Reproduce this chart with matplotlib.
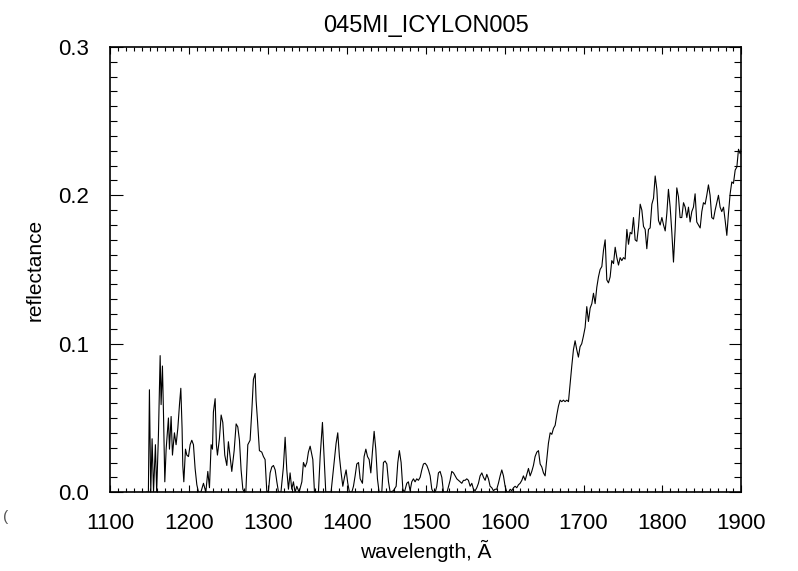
import matplotlib
matplotlib.use("Agg")
import matplotlib.pyplot as plt
from matplotlib.ticker import MultipleLocator

title = "045MI_ICYLON005"

wavelength = [
    1146, 1148.5, 1149.8, 1151.5, 1153.2, 1155, 1157.4, 1159, 1161.2, 1163.4,
    1164.6, 1166.3, 1167.6, 1169.3, 1171, 1173.9, 1175.2, 1177.3, 1179, 1181.5,
    1183.6, 1185.8, 1187.9, 1189.6, 1191.2, 1192.1, 1193.4, 1195.5, 1197.2, 1199.3,
    1201.4, 1203.5, 1205.6, 1207.7, 1209.9, 1212, 1215, 1218.3, 1221.3, 1223.8,
    1225.9, 1228, 1229.7, 1230.9, 1233.1, 1234.7, 1236, 1238.5, 1240.7, 1242.8,
    1245.3, 1247.9, 1249.9, 1254.2, 1257.2, 1259.7, 1261.8, 1263.9, 1266, 1268.2,
    1270, 1272, 1274.5, 1277.4, 1279.6, 1281.6, 1283.8, 1285, 1286.7, 1289.2,
    1292.2, 1294.3, 1296.4, 1298.6, 1300.7, 1302.8, 1304.9, 1307, 1309.2, 1311.3,
    1313.4, 1316.5, 1319.6, 1321.8, 1323.9, 1326, 1328.1, 1330.2, 1332.3, 1334.4,
    1336.6, 1339.5, 1343, 1345, 1347.2, 1349.3, 1351.3, 1353.5, 1356.9, 1359,
    1362, 1364, 1366.2, 1369.1, 1371, 1373.3, 1376, 1380, 1383.9, 1386.4,
    1388.5, 1390.6, 1392.8, 1394.9, 1397, 1399.1, 1401.2, 1403.3, 1406.3, 1408.4,
    1410.5, 1412.6, 1414.8, 1416.9, 1419.8, 1421.9, 1424.1, 1426.2, 1428.3, 1430.4,
    1432.4, 1434.6, 1436.7, 1438.8, 1440.9, 1444.3, 1446.4, 1448.5, 1450.7, 1452.8,
    1454.9, 1459, 1462.5, 1464.6, 1466.6, 1468.8, 1471, 1473, 1476, 1478,
    1480.2, 1482.3, 1484.4, 1486.5, 1488.6, 1490.7, 1492.9, 1495, 1497.1, 1499.2,
    1501.4, 1503.5, 1505.6, 1507.7, 1509.8, 1512, 1514, 1516.1, 1518.2, 1520.4,
    1522.5, 1527, 1530.9, 1533, 1535.2, 1537.3, 1539.4, 1541.5, 1543.6, 1545.7,
    1547.8, 1549.9, 1552, 1554.1, 1556.3, 1558.4, 1560.5, 1562.6, 1564.7, 1566.8,
    1568.9, 1571.1, 1573.2, 1575.3, 1577.4, 1579.5, 1581.6, 1583.7, 1585.8, 1587.9,
    1590, 1592.1, 1594.3, 1596.4, 1598.5, 1600.6, 1602.8, 1605, 1607, 1609.1,
    1611.2, 1613.3, 1615.4, 1617.5, 1619.6, 1621.8, 1623.8, 1626, 1628.1, 1630.2,
    1632.3, 1634.4, 1636.5, 1638.6, 1640.8, 1642.9, 1645, 1647.1, 1649.2, 1651.3,
    1653.4, 1655.5, 1657.7, 1659.8, 1661.9, 1664, 1666.1, 1668.2, 1670.3, 1672.4,
    1674.5, 1676.6, 1678.8, 1680.9, 1683, 1685.1, 1687.2, 1689.3, 1691.4, 1693.5,
    1695.6, 1697.7, 1699.8, 1702, 1704.1, 1706.2, 1708.4, 1710.5, 1712.6, 1714.7,
    1716.8, 1718.9, 1721, 1723.2, 1725.3, 1727.4, 1729.5, 1731.6, 1733.7, 1735.8,
    1738, 1740.1, 1742.2, 1744.3, 1746.4, 1748.5, 1750.6, 1752.7, 1754.9, 1757,
    1759.1, 1761.2, 1763.3, 1765.4, 1767.6, 1769.7, 1771.8, 1773.9, 1776, 1778.1,
    1780.2, 1782.3, 1784.4, 1786.6, 1788.7, 1790.8, 1792.9, 1795, 1797.1, 1799.3,
    1801.4, 1803.5, 1805.6, 1807.6, 1809.8, 1811.9, 1814, 1816.1, 1818.2, 1820.3,
    1822.4, 1824.5, 1826.7, 1828.8, 1830.9, 1833, 1835.1, 1837.2, 1839.3, 1841.4,
    1843.5, 1845.6, 1847.8, 1849.9, 1852, 1854.1, 1856.2, 1858.3, 1860.4, 1862.5,
    1864.7, 1866.8, 1868.9, 1871, 1873.1, 1875.2, 1877.4, 1879.5, 1881.6, 1883.7,
    1885.8, 1887.9, 1890, 1892.2, 1894.3, 1896.4, 1898.5, 1900,
]

reflectance = [
    0, 0, 0.069, 0, 0.036, 0, 0.032, 0, 0.038, 0.092,
    0.059, 0.085, 0.054, 0.007, 0.029, 0.050, 0.029, 0.051, 0.025, 0.040,
    0.032, 0.043, 0.059, 0.070, 0.043, 0.018, 0.007, 0.029, 0.025, 0.024,
    0.032, 0.035, 0.032, 0.016, 0.005, 0, 0, 0.006, 0, 0.014,
    0.003, 0.032, 0.029, 0.054, 0.063, 0.032, 0.025, 0.036, 0.052, 0.047,
    0.025, 0.018, 0.034, 0.014, 0.028, 0.046, 0.044, 0.035, 0.015, 0.002,
    0, 0, 0.032, 0.035, 0.055, 0.076, 0.080, 0.062, 0.049, 0.028,
    0.027, 0.024, 0.022, 0, 0.001, 0.013, 0.017, 0.018, 0.015, 0.007,
    0, 0, 0.017, 0.037, 0.015, 0.002, 0.013, 0.002, 0.007, 0,
    0.004, 0, 0.007, 0.020, 0.017, 0.020, 0.027, 0.031, 0.022, 0,
    0, 0, 0.024, 0.047, 0.026, 0, 0, 0, 0.020, 0.033,
    0.040, 0.024, 0.013, 0.004, 0.010, 0.015, 0.006, 0, 0, 0.004,
    0.011, 0.019, 0.020, 0.009, 0.006, 0.024, 0.029, 0.024, 0.022, 0.013,
    0.027, 0.041, 0.029, 0.009, 0, 0, 0.020, 0.021, 0.019, 0.007,
    0, 0.001, 0.004, 0.020, 0.028, 0.020, 0.002, 0, 0.006, 0.007,
    0.001, 0.007, 0.009, 0.007, 0.009, 0.008, 0.010, 0.015, 0.019, 0.0195,
    0.018, 0.015, 0.011, 0.002, 0, 0, 0.004, 0.013, 0.014, 0.010,
    0, 0, 0.008, 0.014, 0.013, 0.011, 0.009, 0.008, 0.007, 0.006,
    0.008, 0.008, 0.009, 0.008, 0.004, 0.006, 0.002, 0.001, 0.003, 0.006,
    0.011, 0.013, 0.010, 0.008, 0.012, 0.009, 0.004, 0.003, 0.001, 0.002,
    0.002, 0.006, 0.011, 0.015, 0.011, 0.004, 0, 0, 0.002, 0.001,
    0.003, 0.004, 0.003, 0.005, 0.006, 0.008, 0.011, 0.008, 0.012, 0.016,
    0.011, 0.014, 0.018, 0.024, 0.027, 0.028, 0.019, 0.017, 0.013, 0.011,
    0.022, 0.033, 0.040, 0.039, 0.043, 0.045, 0.052, 0.058, 0.062, 0.061,
    0.062, 0.061, 0.062, 0.061, 0.073, 0.085, 0.096, 0.102, 0.096, 0.091,
    0.098, 0.100, 0.105, 0.111, 0.125, 0.115, 0.124, 0.127, 0.134, 0.127,
    0.138, 0.145, 0.150, 0.152, 0.163, 0.170, 0.143, 0.141, 0.145, 0.156,
    0.154, 0.165, 0.158, 0.153, 0.158, 0.156, 0.158, 0.157, 0.177, 0.167,
    0.175, 0.174, 0.185, 0.170, 0.169, 0.179, 0.194, 0.190, 0.179, 0.177,
    0.164, 0.177, 0.178, 0.194, 0.198, 0.213, 0.204, 0.183, 0.180, 0.185,
    0.180, 0.176, 0.188, 0.204, 0.192, 0.175, 0.155, 0.177, 0.205, 0.199,
    0.185, 0.185, 0.195, 0.192, 0.185, 0.192, 0.182, 0.189, 0.192, 0.201,
    0.182, 0.180, 0.178, 0.189, 0.195, 0.194, 0.200, 0.207, 0.200, 0.185,
    0.184, 0.190, 0.195, 0.200, 0.192, 0.189, 0.192, 0.183, 0.173, 0.188,
    0.201, 0.209, 0.208, 0.217, 0.219, 0.231, 0.228, 0.231,
]

plt.rcParams['font.family'] = ['Liberation Sans', 'DejaVu Sans']
plt.rcParams['font.size'] = 16

fig = plt.figure(figsize=(7.98, 5.71), dpi=100)
ax = fig.add_axes([0.138, 0.138, 0.791, 0.780])

ax.plot(wavelength, reflectance, color='black', lw=0.8)

ax.set_xlim(1100, 1900)
ax.set_ylim(0, 0.3)
ax.xaxis.set_major_locator(MultipleLocator(100))
ax.xaxis.set_minor_locator(MultipleLocator(10))
ax.yaxis.set_major_locator(MultipleLocator(0.1))
ax.yaxis.set_minor_locator(MultipleLocator(0.01))
ax.yaxis.set_major_formatter(plt.FormatStrFormatter('%.1f'))

ax.tick_params(axis='both', which='both', direction='in', top=True, right=True,
               color='black', width=0.8)
ax.tick_params(axis='x', which='major', length=5, pad=15)
ax.tick_params(axis='x', which='minor', length=3)
ax.tick_params(axis='y', which='major', length=9, pad=15)
ax.tick_params(axis='y', which='minor', length=5)
for s in ax.spines.values():
    s.set_linewidth(1.2)

ax.set_title(title, fontsize=17, pad=11)
ax.set_xlabel("wavelength, Ã", fontsize=15, labelpad=4)
ax.set_ylabel("reflectance", fontsize=15, labelpad=10)

fig.text(0.004, 0.088, "(", fontsize=11, color='#555555')

fig.savefig("out.png", dpi=100)
